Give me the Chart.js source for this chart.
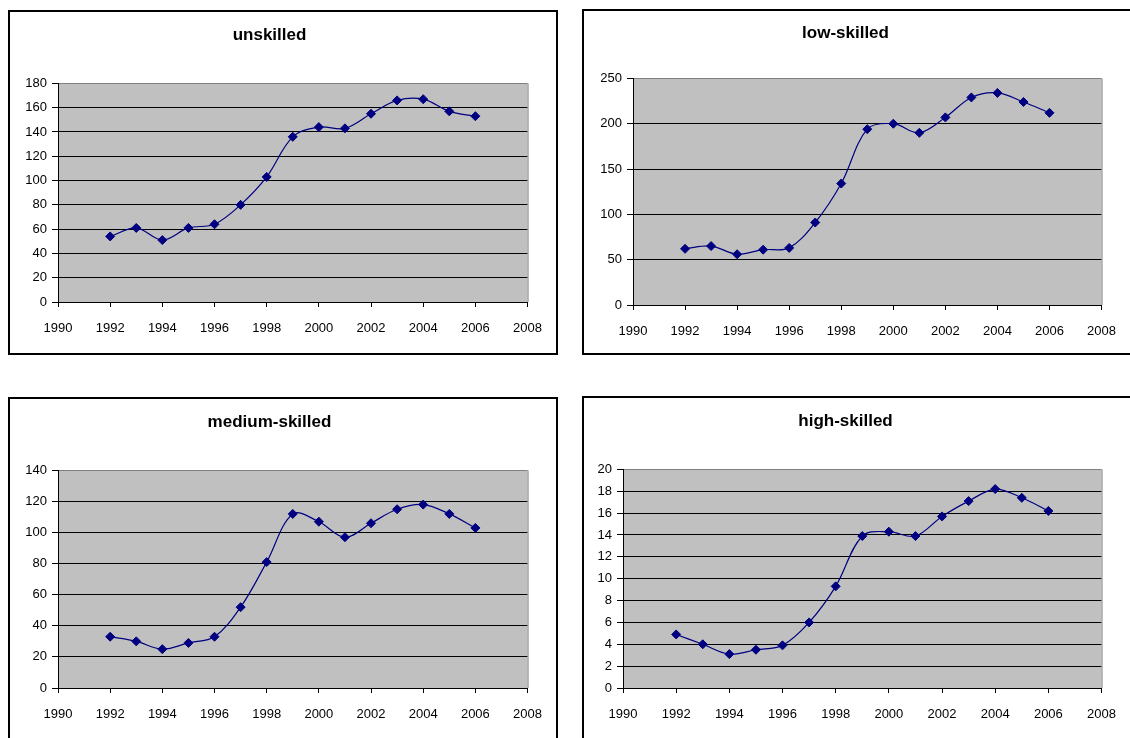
<!DOCTYPE html>
<html>
<head>
<meta charset="utf-8">
<title>Skill groups 1992-2006</title>
<script src="https://cdn.jsdelivr.net/npm/chart.js@4.4.1/dist/chart.umd.min.js"></script>
<style>
    body { margin: 0; background: #fff; width: 1130px; height: 738px; overflow: hidden; position: relative; }
    .box { position: absolute; box-sizing: border-box; border: 2px solid #000; background: #fff; }
    .box canvas { display: block; }
</style>
</head>
<body>
<div class="box" style="left:8px;top:10px;width:550px;height:345px"><canvas id="chart-unskilled" width="546" height="341"></canvas></div>
<div class="box" style="left:582px;top:9px;width:550px;height:346px"><canvas id="chart-low" width="546" height="342"></canvas></div>
<div class="box" style="left:8px;top:397px;width:550px;height:346px"><canvas id="chart-medium" width="546" height="342"></canvas></div>
<div class="box" style="left:582px;top:396px;width:550px;height:346px"><canvas id="chart-high" width="546" height="342"></canvas></div>
<script>
// values
const years = [1992, 1993, 1994, 1995, 1996, 1997, 1998, 1999, 2000, 2001, 2002, 2003, 2004, 2005, 2006];
const unskilled = [54, 61, 51, 61, 64, 80, 103, 136, 144, 143, 155, 166, 167, 157, 153];
const lowSkilled = [62, 65, 56, 61, 63, 91, 134, 194, 200, 190, 207, 229, 234, 224, 212];
const mediumSkilled = [33, 30, 25, 29, 33, 52, 81, 112, 107, 97, 106, 115, 118, 112, 103];
const highSkilled = [4.9, 4.0, 3.1, 3.5, 3.9, 6.0, 9.3, 13.9, 14.3, 13.9, 15.7, 17.1, 18.2, 17.4, 16.2];

const xMin = 1990, xMax = 2008, xStep = 2;

const FONT = "'Liberation Sans', Arial, sans-serif";

// grey plot area like the old excel charts
const plotBackground = {
    id: 'plotBackground',
    beforeDraw(chart) {
        const a = chart.chartArea;
        const c = chart.ctx;
        c.save();
        c.fillStyle = '#c0c0c0';
        c.fillRect(a.left, a.top, a.right - a.left, a.bottom - a.top);
        c.restore();
    },
    beforeDatasetsDraw(chart) {
        const a = chart.chartArea;
        const c = chart.ctx;
        c.save();
        c.strokeStyle = '#808080';
        c.lineWidth = 1;
        c.beginPath();
        c.moveTo(a.right + 0.5, a.top);
        c.lineTo(a.right + 0.5, a.bottom);
        c.stroke();
        c.restore();
    }
};

function loadSkillChart(id, title, values, yMax, yStep, m) {
    const points = years.map((y, i) => ({ x: y, y: values[i] }));
    return new Chart(document.getElementById(id), {
        type: 'line',
        data: {
            datasets: [{
                label: title,
                data: points,
                borderColor: '#000080',
                backgroundColor: '#000080',
                borderWidth: 1.2,
                tension: 0.35,
                pointStyle: 'rectRot',
                pointRadius: 4.5,
                pointBorderWidth: 1,
                pointBorderColor: '#000080',
                pointBackgroundColor: '#000080'
            }]
        },
        options: {
            responsive: false,
            animation: false,
            events: [],
            layout: { padding: { left: 0, right: m.right, top: 0, bottom: 0 } },
            plugins: {
                legend: { display: false },
                tooltip: { enabled: false },
                title: {
                    display: true,
                    text: title,
                    color: '#000',
                    font: { family: FONT, size: 17, weight: 'bold' },
                    padding: { top: m.titleTop, bottom: m.titleBottom }
                }
            },
            scales: {
                x: {
                    type: 'linear',
                    min: xMin,
                    max: xMax,
                    afterFit(scale) { scale.height = m.bottom; },
                    ticks: {
                        stepSize: xStep,
                        color: '#000',
                        font: { family: FONT, size: 13 },
                        padding: 14,
                        maxRotation: 0,
                        callback: v => String(v)
                    },
                    grid: { drawOnChartArea: false, drawTicks: true, tickLength: 5, color: '#000' },
                    border: { display: true, color: '#000', width: 1 }
                },
                y: {
                    min: 0,
                    max: yMax,
                    afterFit(scale) { scale.width = m.left; },
                    ticks: {
                        stepSize: yStep,
                        color: '#000',
                        font: { family: FONT, size: 13 },
                        padding: 5
                    },
                    grid: {
                        color: ctx => (ctx.tick && ctx.tick.value === yMax) ? '#808080' : '#000',
                        tickColor: '#000',
                        tickLength: 6,
                        lineWidth: 1
                    },
                    border: { display: true, color: '#000', width: 1 }
                }
            }
        },
        plugins: [plotBackground]
    });
}

loadSkillChart('chart-unskilled', 'unskilled', unskilled, 180, 20,
    { left: 48, right: 27, bottom: 51, titleTop: 13, titleBottom: 38 });
loadSkillChart('chart-low', 'low-skilled', lowSkilled, 250, 50,
    { left: 49, right: 23, bottom: 48, titleTop: 12, titleBottom: 35 });
loadSkillChart('chart-medium', 'medium-skilled', mediumSkilled, 140, 20,
    { left: 48, right: 27, bottom: 53, titleTop: 13, titleBottom: 38 });
loadSkillChart('chart-high', 'high-skilled', highSkilled, 20, 2,
    { left: 39, right: 23, bottom: 52, titleTop: 13, titleBottom: 38 });
</script>
</body>
</html>
